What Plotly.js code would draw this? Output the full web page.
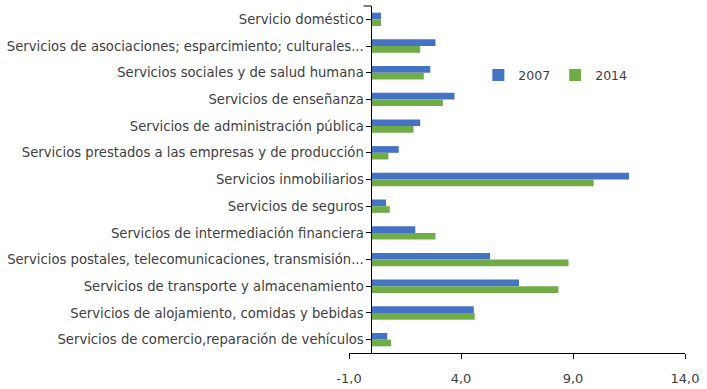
<!DOCTYPE html>
<html>
<head>
<meta charset="utf-8">
<script src="https://cdn.plot.ly/plotly-3.0.1.min.js"></script>
<style>html,body{margin:0;padding:0;background:#fff;}#chart{width:707px;height:389px;}</style>
</head>
<body>
<div id="chart"></div>
<script>
// Categories listed top to bottom, as in the reference
const categories = [
  "Servicio doméstico",
  "Servicios de asociaciones; esparcimiento; culturales...",
  "Servicios sociales y de salud humana",
  "Servicios de enseñanza",
  "Servicios de administración pública",
  "Servicios prestados a las empresas y de producción",
  "Servicios inmobiliarios",
  "Servicios de seguros",
  "Servicios de intermediación financiera",
  "Servicios postales, telecomunicaciones, transmisión...",
  "Servicios de transporte y almacenamiento",
  "Servicios de alojamiento, comidas y bebidas",
  "Servicios de comercio,reparación de vehículos"
];
const values2007 = [0.43, 2.86, 2.63, 3.71, 2.18, 1.22, 11.5, 0.65, 1.96, 5.30, 6.59, 4.57, 0.71];
const values2014 = [0.43, 2.18, 2.34, 3.19, 1.88, 0.76, 9.92, 0.82, 2.86, 8.80, 8.35, 4.61, 0.88];
const seriesNames = ["2007", "2014"];
const xTickVals = [-1, 4, 9, 14];
const xTickText = ["-1,0", "4,0", "9,0", "14,0"];
const xRange = [-1, 14];

const FONT = "DejaVu Sans, sans-serif";
const traces = [
  {type: "bar", orientation: "h", name: seriesNames[0], y: categories, x: values2007,
   marker: {color: "#4472C4"}},
  {type: "bar", orientation: "h", name: seriesNames[1], y: categories, x: values2014,
   marker: {color: "#70AD47"}}
];
const zeroPos = (0 - xRange[0]) / (xRange[1] - xRange[0]);
const layout = {
  width: 707, height: 389,
  margin: {l: 349, r: 22, t: 6, b: 36},
  paper_bgcolor: "#fff", plot_bgcolor: "#fff",
  barmode: "group", bargap: 0.5, bargroupgap: 0,
  showlegend: true,
  legend: {orientation: "h", xref: "paper", yref: "paper", x: 0.385, y: 0.80,
           xanchor: "left", yanchor: "middle", bgcolor: "rgba(0,0,0,0)", itemwidth: 30,
           font: {family: FONT, size: 12.5, color: "#404040"}, traceorder: "normal"},
  xaxis: {range: xRange, tickvals: xTickVals, ticktext: xTickText, showgrid: false, zeroline: false,
          showline: true, linecolor: "#000", linewidth: 1, ticks: "outside", ticklen: 5,
          tickcolor: "#000", ticklabelstandoff: 8,
          tickfont: {family: FONT, size: 13, color: "#404040"}, fixedrange: true},
  yaxis: {autorange: "reversed", anchor: "free", position: zeroPos, showgrid: false, zeroline: false,
          showline: true, linecolor: "#000", linewidth: 1, ticks: "outside", ticklen: 5,
          tickcolor: "#000", tickfont: {family: FONT, size: 13.2, color: "#404040"}, automargin: false},
  shapes: [{type: "line", xref: "x", yref: "paper", x0: -0.35, x1: 0, y0: 1, y1: 1,
            line: {color: "#000", width: 1}}]
};
Plotly.newPlot("chart", traces, layout, {displayModeBar: false, staticPlot: true});
</script>
</body>
</html>
